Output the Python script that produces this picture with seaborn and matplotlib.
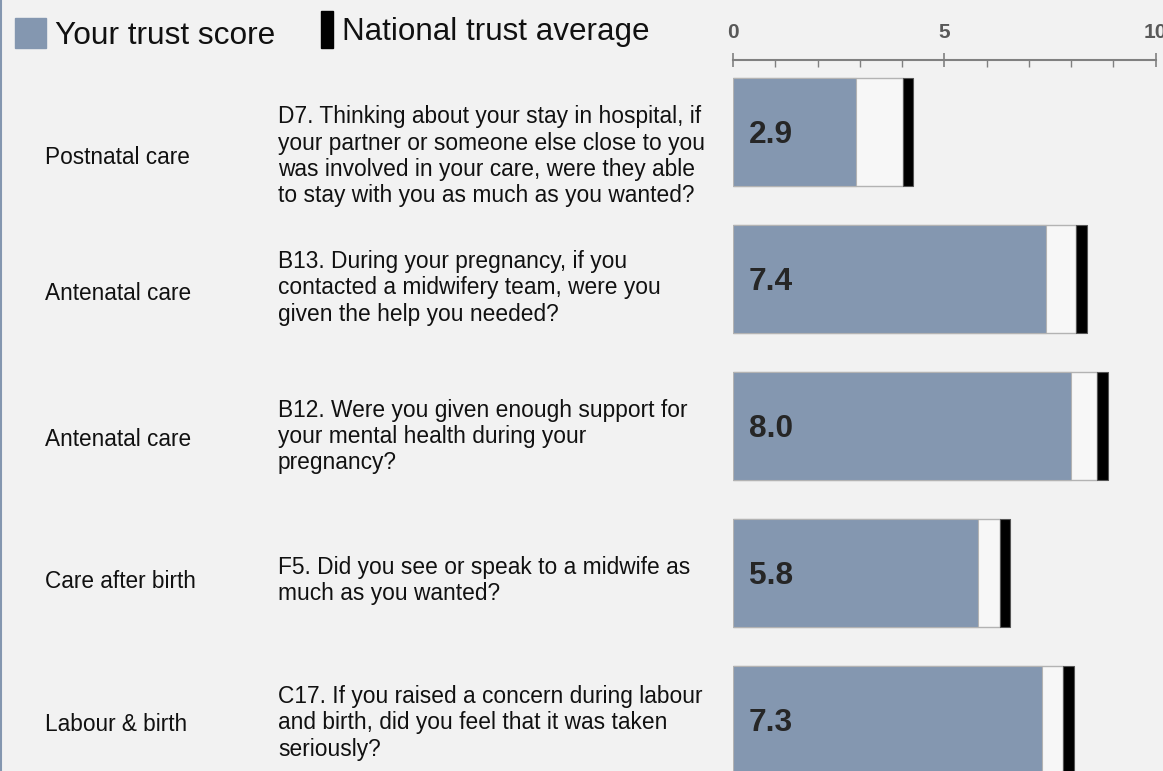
import matplotlib
matplotlib.use("Agg")
import matplotlib.pyplot as plt
import numpy as np
import pandas as pd
import seaborn as sns
from matplotlib.patches import Rectangle
from matplotlib.lines import Line2D
from matplotlib.ticker import MultipleLocator
from matplotlib.transforms import blended_transform_factory

# data
sections = ["Postnatal care", "Antenatal care", "Antenatal care",
            "Care after birth", "Labour & birth"]
questions = [
    "D7. Thinking about your stay in hospital, if\nyour partner or someone else close to you\n"
    "was involved in your care, were they able\nto stay with you as much as you wanted?",
    "B13. During your pregnancy, if you\ncontacted a midwifery team, were you\ngiven the help you needed?",
    "B12. Were you given enough support for\nyour mental health during your\npregnancy?",
    "F5. Did you see or speak to a midwife as\nmuch as you wanted?",
    "C17. If you raised a concern during labour\nand birth, did you feel that it was taken\nseriously?",
]
trust_score = [2.9, 7.4, 8.0, 5.8, 7.3]
national_avg = [4.14, 8.24, 8.74, 6.43, 7.94]

# colours / layout
BG = "#f2f2f2"
BAR = "#8497b0"
EDGE = "#b3b3b3"
marker_w = 0.25
label_shift = [0.17, 0.10, 0.09, 0.06, 0.03]      # text rows sit a bit lower than bars
question_shift = [0.165, 0.06, 0.07, 0.05, 0.02]

sns.set_theme(style="white")
plt.rcParams['font.family'] = ['Liberation Sans', 'DejaVu Sans']

df = pd.DataFrame({"q": range(len(trust_score)),
                   "score": trust_score,
                   "nat": national_avg})
df["gap_end"] = df["nat"] - marker_w / 2

fig = plt.figure(figsize=(11.63, 7.71), dpi=100, facecolor=BG)
ax = fig.add_axes([733 / 1163, 0, 422.7 / 1163, 711 / 771])
ax.set_facecolor(BG)

# white gap up to national average marker
sns.barplot(data=df, x="gap_end", y="q", orient="h", color="#f7f7f7",
            width=0.741, edgecolor=EDGE, linewidth=1, ax=ax, saturation=1)
# trust score
sns.barplot(data=df, x="score", y="q", orient="h", color=BAR,
            width=0.741, edgecolor=EDGE, linewidth=0.8, ax=ax, saturation=1)
# national average marker
ax.barh(df["q"], marker_w, left=df["nat"] - marker_w / 2, height=0.741,
        color="black", edgecolor="#555555", linewidth=0.8)

for i, s in enumerate(trust_score):
    ax.annotate(f"{s:.1f}", (0, i), xytext=(11.5, -2), textcoords="offset points",
                ha="left", va="center", fontsize=22.8, fontweight="bold",
                color="#262626")

ax.set_xlim(0, 10)
ax.set_ylim(4.347, -0.49)
ax.set_xlabel("")
ax.set_ylabel("")
ax.set_yticks([])
ax.xaxis.tick_top()
ax.xaxis.set_major_locator(MultipleLocator(5))
ax.xaxis.set_minor_locator(MultipleLocator(1))
ax.tick_params(axis="x", which="major", direction="inout", length=10, width=1.2,
               color="#808080", pad=8, labelsize=15, labelcolor="#595959")
ax.tick_params(axis="x", which="minor", direction="in", length=5, width=1,
               color="#808080", top=True, bottom=False)
for lab in ax.get_xticklabels():
    lab.set_fontweight("bold")
for side in ["left", "right", "bottom"]:
    ax.spines[side].set_visible(False)
ax.spines["top"].set_color("#808080")
ax.spines["top"].set_linewidth(1.5)

# row texts
trans = blended_transform_factory(fig.transFigure, ax.transData)
for i in range(len(sections)):
    ax.text(45 / 1163, i + label_shift[i], sections[i], transform=trans,
            ha="left", va="center", fontsize=16.3, color="#111111")
    ax.text(278 / 1163, i + question_shift[i], questions[i], transform=trans,
            ha="left", va="center", fontsize=16.4, color="#111111", linespacing=1.18)

# legend
fig.patches.append(Rectangle((15 / 1163, 1 - 48 / 771), 31 / 1163, 30 / 771,
                             transform=fig.transFigure, color=BAR))
fig.text(55 / 1163, 1 - 44 / 771, "Your trust score", fontsize=22.8,
         va="baseline", ha="left", color="#111111")
fig.patches.append(Rectangle((321 / 1163, 1 - 48 / 771), 12 / 1163, 37 / 771,
                             transform=fig.transFigure, color="black"))
fig.text(342 / 1163, 1 - 40 / 771, "National trust average", fontsize=22.6,
         va="baseline", ha="left", color="#111111")

# left border
fig.add_artist(Line2D([0.0008, 0.0008], [0, 1], transform=fig.transFigure,
                      color=BAR, linewidth=1.5))

fig.savefig("out.png", dpi=100, facecolor=BG)
